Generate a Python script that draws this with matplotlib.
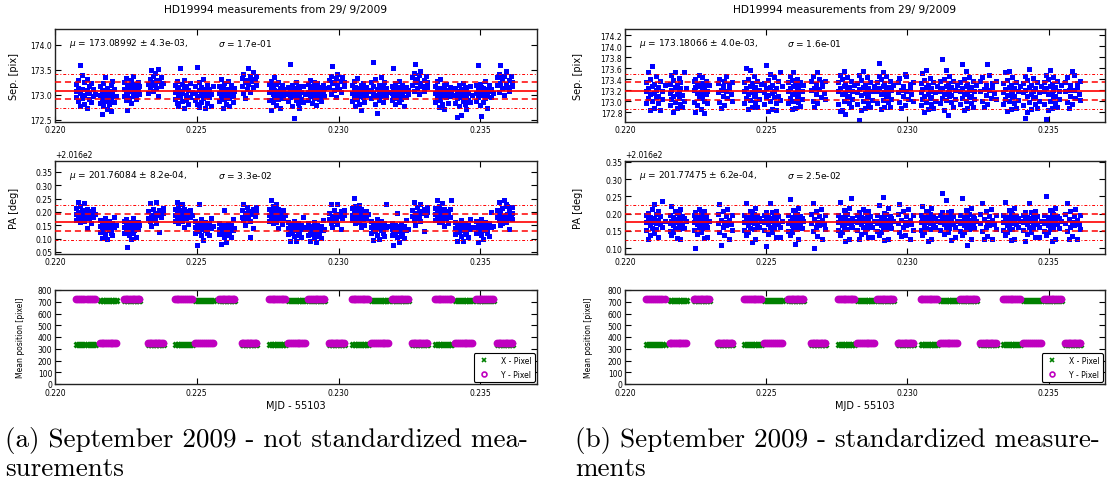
import matplotlib
matplotlib.use('Agg')
import matplotlib.pyplot as plt
import numpy as np
from matplotlib.ticker import MultipleLocator, FormatStrFormatter, ScalarFormatter

# observing blocks of the night, MJD - 55103 (first frame, last frame)
blocks = [
    (0.22075, 0.22140), (0.22158, 0.22215), (0.22243, 0.22298), (0.22328, 0.22380),
    (0.22422, 0.22482), (0.22494, 0.22556), (0.22579, 0.22632), (0.22659, 0.22710),
    (0.22755, 0.22812), (0.22822, 0.22882), (0.22894, 0.22950), (0.22966, 0.23020),
    (0.23047, 0.23104), (0.23116, 0.23175), (0.23187, 0.23244), (0.23259, 0.23313),
    (0.23340, 0.23398), (0.23410, 0.23472), (0.23484, 0.23544), (0.23559, 0.23613),
]

# mean detector position of the two stars in each block [pixel]
xpix_mean = [338, 712, 712, 338] * 5
ypix_mean = [721, 346, 721, 346] * 5

# per-frame measurements, one string per block.
# token = frame column (0-9 inside the block) + value code
# separation: code in 0.01 pix above 172.0, PA: code in 0.001 deg above 201.6
sep_raw = [
    "0108 0122 0097 1115 1089 1131 2104 2078 2160 3112 3095 3141 4101 4126 4083 5110 5074 5133 6118 6092 6104 7087 7125 8099 8113 9102",
    "0101 0085 0118 1093 1063 1110 2097 2124 2079 3105 3088 3136 4099 4072 4114 5091 5108 5083 6120 6095 6069 7103 7128 8087 8112 9098",
    "0112 0126 0098 1107 1135 1090 2118 2102 2070 3121 3109 3094 4130 4113 4085 5104 5139 6116 6099 6123 7108 7092 8127 8111 9103 9119",
    "0122 0104 1133 1117 2150 2126 3109 3138 4121 4145 5114 5131 6152 6099 7128 8136 8118 9124",
    "0107 0121 0093 1112 1085 1128 2102 2117 2079 3109 3096 3154 4104 4123 4088 5115 5074 5131 6100 6119 6091 7110 7082 8125 8097 9106",
    "0104 0090 0119 1098 1157 1082 2110 2126 2077 3101 3116 3087 4108 4094 4133 5099 5075 5112 6106 6121 6085 7097 7113 8102 8079 9118",
    "0104 0119 0088 1110 1097 1132 2101 2075 2116 3107 3092 3124 4098 4113 4083 5105 5129 6094 6111 6078 7102 7120 8099 8086 9109 9115",
    "0118 0135 1104 1142 2127 2094 3131 3113 4155 4122 5139 5107 6128 7146 7116 8133 9121 9139",
    "0107 0123 0091 1114 1070 1129 2103 2118 2086 3111 3097 3136 4100 4122 4080 5109 5093 5127 6115 6101 6074 7106 7120 8095 8113 9104",
    "0102 0117 0088 1096 1163 1110 2105 2079 2121 3099 3054 3114 4108 4091 4126 5101 5084 5119 6097 6112 6075 7106 7093 8118 8087 9103",
    "0107 0122 0090 1113 1098 1131 2104 2084 2119 3110 3095 3127 4101 4116 4081 5108 5124 6093 6112 6103 7117 7088 8106 8121 9099 9114",
    "0116 0131 1102 1139 2124 2158 3110 3127 4135 4097 5120 5143 6113 7129 7106 8137 9118 9126",
    "0105 0120 0088 1111 1096 1129 2101 2079 2116 3108 3093 3134 4099 4114 4083 5106 5121 5070 6112 6097 6124 7103 7086 8117 8100 9109",
    "0110 0126 0094 1105 1166 1118 2099 2132 2083 3113 3101 3065 4121 4108 4090 5115 5098 5137 6104 6119 6086 7111 7127 8096 8114 9106",
    "0105 0119 0090 1112 1097 1155 2101 2124 2082 3109 3094 3116 4103 4128 4087 5106 5093 6114 6100 6121 7079 7108 8117 8096 9110 9102",
    "0121 0137 1108 1144 2126 2163 3115 3133 4140 4102 5124 5149 6118 7131 7109 8139 9126 9117",
    "0104 0119 0087 1110 1094 1128 2100 2077 2115 3107 3091 3133 4098 4113 4082 5105 5120 5072 6111 6096 6123 7102 7085 8116 8099 9108",
    "0100 0115 0085 1094 1056 1108 2103 2078 2120 3097 3112 3060 4106 4089 4125 5099 5083 5116 6095 6110 6073 7104 7091 8118 8086 9101",
    "0105 0120 0089 1111 1096 1160 2101 2123 2080 3108 3058 3117 4102 4114 4086 5106 5094 5128 6112 6099 6075 7109 7121 8097 8113 9104",
    "0121 0136 1107 1143 2125 2160 3114 3132 4139 4101 5123 5148 6117 7130 7108 8138 9127 9119",
]
pa_raw = [
    "0193 0215 0171 1201 1238 1182 2188 2224 2163 3197 3176 3209 4185 4232 4168 5194 5213 5140 6179 6205 6187 7199 7158 8210 8183 9192",
    "0148 0170 0125 1155 1103 1139 2162 2131 2145 3152 3118 3176 4141 4159 4097 5134 5166 5148 6123 6153 6137 7160 7115 8144 8182 9150",
    "0145 0166 0123 1151 1134 1172 2140 2157 2068 3129 3148 3112 4163 4137 4098 5152 5121 5176 6143 6159 6131 7146 7108 8138 8164 9150",
    "0178 0203 1165 1234 2190 2148 3212 3183 4172 4198 5236 5160 6189 7207 7124 8181 9195 9214",
    "0190 0212 0168 1197 1236 1178 2185 2220 2160 3194 3173 3206 4182 4229 4165 5191 5210 5145 6176 6202 6184 7196 7155 8207 8180 9189",
    "0145 0167 0122 1152 1078 1136 2159 2128 2230 3149 3115 3173 4138 4156 4096 5131 5163 5145 6120 6150 6134 7157 7112 8141 8179 9147",
    "0138 0160 0116 1144 1080 1129 2152 2121 2135 3142 3108 3206 4131 4149 4088 5124 5156 5138 6113 6143 6127 7150 7105 8134 8172 9140",
    "0183 0208 1170 1230 2195 2153 3217 3188 4177 4203 5105 5165 6194 7212 7140 8186 9200 9219",
    "0190 0213 0167 1198 1245 1179 2186 2221 2158 3195 3172 3207 4181 4230 4164 5192 5211 5140 6177 6203 6185 7197 7154 8208 8179 9188",
    "0140 0162 0118 1146 1092 1131 2154 2123 2137 3144 3110 3168 4133 4151 4090 5126 5158 5140 6115 6145 6129 7152 7106 8136 8180 9142",
    "0135 0157 0113 1141 1093 1126 2149 2118 2132 3139 3105 3163 4128 4146 4088 5121 5153 5135 6110 6140 6124 7147 7101 8131 8169 9137",
    "0173 0198 1160 1231 2185 2143 3207 3178 4167 4193 5228 5155 6184 7202 7138 8176 9190 9209",
    "0188 0214 0170 1195 1252 1176 2183 2222 2158 3192 3171 3208 4180 4227 4163 5193 5212 5143 6174 6200 6186 7198 7153 8205 8178 9191",
    "0145 0168 0121 1153 1095 1137 2160 2129 2142 3150 3114 3175 4139 4157 4099 5132 5165 5146 6122 6151 6135 7158 7110 8142 8230 9148",
    "0136 0158 0114 1142 1078 1127 2150 2119 2133 3140 3106 3198 4129 4147 4087 5122 5154 5136 6111 6141 6125 7148 7102 8132 8170 9138",
    "0184 0209 1171 1238 2196 2152 3218 3189 4178 4204 5230 5166 6195 7213 7130 8187 9201 9220",
    "0193 0216 0170 1200 1246 1181 2188 2223 2162 3197 3175 3209 4184 4232 4167 5194 5213 5146 6179 6205 6187 7199 7157 8210 8182 9246",
    "0140 0163 0117 1147 1092 1132 2155 2124 2138 3145 3109 3169 4134 4152 4093 5127 5159 5141 6116 6146 6130 7153 7107 8137 8175 9143",
    "0145 0168 0122 1152 1088 1137 2159 2128 2141 3149 3113 3172 4138 4156 4097 5131 5163 5146 6121 6151 6134 7158 7110 8143 8200 9147",
    "0182 0207 1169 1236 2193 2151 3215 3186 4175 4244 5228 5163 6192 7210 7135 8184 9198 9217 1201 3160 5190 7178 9174 6222 2199 4181",
]
sep_std = [
    "0118 0134 0097 1123 1153 1105 2112 2140 2084 3127 3101 3164 4115 4131 4088 5120 5108 5145 6097 6125 6110 7083 7136 8119 8103 9129",
    "0115 0131 0092 1121 1104 1147 2109 2138 2080 3126 3098 3152 4113 4129 4087 5118 5106 5142 6095 6123 6134 7089 7111 8153 8101 9124",
    "0120 0136 0099 1126 1080 1140 2114 2131 2093 3128 3105 3148 4117 4133 4085 5121 5109 5144 6100 6127 6078 7112 7137 8119 8097 9130",
    "0116 0133 1098 1141 2121 2087 3128 3109 4137 4093 5119 5146 6105 7124 7131 8112 9134 9101",
    "0119 0135 0096 1124 1160 1106 2113 2141 2085 3128 3102 3156 4116 4132 4089 5121 5109 5145 6098 6126 6111 7090 7137 8120 8104 9131",
    "0117 0133 0094 1123 1165 1107 2111 2139 2082 3126 3100 3150 4114 4130 4086 5119 5107 5143 6096 6124 6084 7109 7136 8152 8102 9128",
    "0118 0134 0097 1124 1106 1145 2112 2138 2086 3127 3101 3153 4115 4131 4088 5120 5108 5141 6098 6125 6111 7091 7135 8119 8103 9129",
    "0120 0137 1101 1145 2123 2090 3131 3112 4153 4096 5122 5140 6107 7127 7134 8115 9136 9104",
    "0118 0135 0095 1123 1082 1147 2112 2140 2084 3127 3101 3154 4115 4131 4077 5120 5108 5144 6097 6125 6110 7090 7136 8119 8103 9129",
    "0117 0133 0094 1122 1066 1147 2111 2139 2083 3126 3100 3155 4114 4130 4087 5119 5107 5143 6096 6124 6109 7089 7135 8118 8102 9128",
    "0119 0135 0096 1124 1170 1146 2113 2141 2085 3128 3102 3152 4116 4132 4089 5121 5109 5145 6098 6126 6111 7090 7137 8120 8104 9130",
    "0117 0134 1098 1142 2120 2087 3128 3109 4150 4093 5119 5146 6104 7124 7131 8112 9135 9101",
    "0116 0133 0093 1122 1151 1104 2110 2139 2081 3125 3099 3156 4113 4129 4086 5118 5106 5142 6095 6123 6108 7088 7134 8117 8101 9127",
    "0119 0136 0096 1124 1176 1105 2113 2141 2084 3128 3102 3157 4116 4132 4074 5121 5109 5145 6098 6126 6111 7090 7137 8120 8104 9130",
    "0118 0134 0095 1123 1168 1105 2112 2140 2083 3127 3101 3154 4115 4131 4087 5120 5108 5144 6097 6125 6110 7089 7136 8119 8103 9129",
    "0119 0136 1100 1144 2122 2089 3130 3111 4168 4095 5121 5148 6106 7126 7133 8114 9137 9103",
    "0117 0133 0094 1122 1153 1103 2111 2139 2082 3126 3100 3155 4114 4130 4086 5119 5107 5143 6096 6124 6109 7088 7135 8118 8102 9128",
    "0116 0132 0093 1121 1070 1146 2110 2138 2081 3125 3099 3159 4113 4129 4085 5118 5106 5142 6095 6123 6108 7087 7134 8117 8101 9127",
    "0118 0135 0095 1123 1067 1148 2112 2140 2084 3127 3101 3156 4115 4131 4087 5120 5108 5144 6097 6125 6110 7089 7136 8119 8103 9129",
    "0118 0135 1099 1143 2121 2088 3129 3110 4155 4094 5120 5147 6105 7125 7132 8113 9136 9102",
]
pa_std = [
    "0175 0196 0152 1181 1128 1203 2168 2190 2139 3177 3213 3160 4186 4145 4229 5172 5199 5157 6183 6132 6207 7170 7193 8161 8236 9179",
    "0174 0195 0151 1180 1222 1138 2167 2189 2146 3176 3208 3159 4185 4131 4201 5171 5198 5156 6182 6127 6214 7169 7192 8160 8186 9178",
    "0176 0197 0153 1182 1102 1204 2169 2191 2140 3178 3214 3161 4187 4146 4203 5173 5200 5158 6184 6131 6208 7171 7194 8162 8133 9180",
    "0172 0199 1148 1229 2183 2110 3161 3207 4176 4138 5193 5166 6212 7181 7127 8169 9195 9154",
    "0175 0196 0152 1181 1232 1139 2168 2190 2147 3177 3209 3160 4186 4118 4202 5172 5199 5157 6183 6128 6215 7170 7193 8161 8187 9179",
    "0176 0197 0153 1182 1108 1205 2169 2191 2141 3178 3230 3161 4187 4147 4204 5173 5200 5158 6184 6132 6209 7171 7194 8162 8134 9180",
    "0174 0195 0151 1180 1243 1137 2167 2189 2146 3176 3210 3159 4185 4113 4201 5171 5198 5156 6182 6127 6216 7169 7192 8160 8186 9178",
    "0173 0200 1149 1230 2184 2100 3162 3208 4177 4136 5194 5167 6213 7182 7126 8170 9196 9155",
    "0175 0196 0152 1181 1235 1139 2168 2190 2147 3177 3211 3160 4186 4121 4202 5172 5199 5157 6183 6128 6215 7170 7244 8161 8187 9179",
    "0176 0197 0153 1182 1128 1205 2169 2191 2141 3178 3212 3161 4187 4147 4204 5173 5200 5158 6184 6132 6209 7171 7194 8162 8134 9180",
    "0174 0195 0151 1180 1226 1137 2167 2189 2146 3176 3247 3159 4185 4124 4201 5171 5198 5156 6182 6127 6216 7169 7192 8160 8186 9178",
    "0172 0199 1148 1229 2183 2135 3161 3207 4176 4138 5193 5166 6212 7181 7127 8169 9195 9154",
    "0175 0196 0152 1181 1223 1139 2168 2190 2147 3177 3209 3160 4186 4121 4202 5172 5199 5157 6183 6128 6215 7170 7193 8161 8187 9179",
    "0176 0197 0153 1182 1260 1205 2169 2191 2141 3178 3238 3161 4187 4147 4204 5173 5200 5158 6184 6124 6209 7171 7194 8162 8134 9180",
    "0174 0195 0151 1180 1246 1137 2167 2189 2146 3176 3210 3159 4185 4110 4201 5171 5198 5156 6182 6127 6216 7169 7192 8160 8186 9178",
    "0173 0200 1149 1230 2184 2128 3162 3208 4177 4136 5194 5167 6213 7182 7126 8170 9196 9155",
    "0175 0196 0152 1181 1233 1139 2168 2190 2147 3177 3211 3160 4186 4124 4202 5172 5199 5157 6183 6128 6215 7170 7193 8161 8187 9179",
    "0176 0197 0153 1182 1120 1205 2169 2191 2141 3178 3231 3161 4187 4147 4204 5173 5200 5158 6184 6132 6209 7171 7194 8162 8134 9180",
    "0174 0195 0151 1180 1252 1137 2167 2189 2146 3176 3210 3159 4185 4120 4201 5171 5198 5156 6182 6127 6216 7169 7192 8160 8186 9178",
    "0173 0200 1149 1230 2184 2128 3162 3208 4177 4136 5194 5167 6213 7182 7126 8170 9196 9155",
]

# mean, error of the mean, scatter
stats_raw = {'sep': (173.08992, 4.3e-03, 1.7e-01), 'pa': (201.76084, 8.2e-04, 3.3e-02)}
stats_std = {'sep': (173.18066, 4.0e-03, 1.6e-01), 'pa': (201.77475, 6.2e-04, 2.5e-02)}

title = 'HD19994 measurements from 29/ 9/2009'
captions = [('(a) September 2009 - not standardized mea-', 'surements'),
            ('(b) September 2009 - standardized measure-', 'ments')]

W, H = 1108, 489


def decode(strings, base, unit):
    xs, ys = [], []
    for (t0, t1), s in zip(blocks, strings):
        for tok in s.split():
            col = int(tok[0])
            xs.append(t0 + col * (t1 - t0) / 9.0)
            ys.append(base + int(tok[1:]) * unit)
    return np.array(xs), np.array(ys)


def px_axes(fig, x0, x1, top, bottom):
    return fig.add_axes([x0 / W, 1 - bottom / H, (x1 - x0) / W, (bottom - top) / H])


def style(ax):
    ax.tick_params(direction='in', top=True, right=True, length=4, width=0.8,
                   labelsize=5.5, pad=2)
    for sp in ax.spines.values():
        sp.set_linewidth(1.0)
        sp.set_color('#222222')
    ax.set_xlim(0.220, 0.237)
    ax.xaxis.set_major_locator(MultipleLocator(0.005))
    ax.xaxis.set_major_formatter(FormatStrFormatter('%.3f'))


def stat_panel(ax, x, y, st):
    mu, err, sig = st
    ax.plot(x, y, 's', color='blue', ms=3.6, mew=0, zorder=2)
    ax.axhline(mu, color='red', lw=1.2, zorder=3)
    for k in (-1, 1):
        ax.axhline(mu + k * sig, color='red', lw=1.1, ls=(0, (4, 2.5)), zorder=3)
        ax.axhline(mu + 2 * k * sig, color='red', lw=0.7, ls=(0, (3, 2, 1, 2)), zorder=3)
    ax.text(0.03, 0.86, r'$\mu$ = %.5f $\pm$ %.1e,' % (mu, err), transform=ax.transAxes,
            fontsize=6.5, va='center')
    ax.text(0.338, 0.86, r'$\sigma$ = %.1e' % sig, transform=ax.transAxes,
            fontsize=6.5, va='center')


def draw_column(fig, x0, x1, sep_s, pa_s, st, sep_lim, sep_step, pa_lim, lab_x, mean_lab_x, cap):
    ax1 = px_axes(fig, x0, x1, 30, 123)
    ax2 = px_axes(fig, x0, x1, 162, 255)
    ax3 = px_axes(fig, x0, x1, 291, 385)
    for ax in (ax1, ax2, ax3):
        style(ax)

    sx, sy = decode(sep_s, 172.0, 0.01)
    px, py = decode(pa_s, 201.6, 0.001)

    stat_panel(ax1, sx, sy, st['sep'])
    ax1.set_ylim(*sep_lim)
    ax1.yaxis.set_major_locator(MultipleLocator(sep_step))
    ax1.yaxis.set_major_formatter(FormatStrFormatter('%.1f'))
    ax1.set_ylabel('Sep. [pix]', fontsize=7)
    ax1.yaxis.set_label_coords(lab_x, 0.5)

    stat_panel(ax2, px, py, st['pa'])
    ax2.set_ylim(*pa_lim)
    ax2.yaxis.set_major_locator(MultipleLocator(0.05))
    ax2.yaxis.set_major_formatter(ScalarFormatter(useOffset=201.6))
    ax2.yaxis.get_offset_text().set_fontsize(5.5)
    ax2.set_ylabel('PA [deg]', fontsize=7)
    ax2.yaxis.set_label_coords(lab_x, 0.5)

    # frame times of each block from the separation series
    for (t0, t1), xm, ym, s in zip(blocks, xpix_mean, ypix_mean, sep_s):
        cols = sorted({int(tok[0]) for tok in s.split()})
        t = np.array([t0 + c * (t1 - t0) / 9.0 for c in cols])
        ax3.plot(t, np.full(len(t), xm), 'x', color='green', ms=3.6, mew=2, zorder=2)
        ax3.plot(t, np.full(len(t), ym), 'o', color='m', mec='m', ms=4.6, zorder=3)
    h1, = ax3.plot([], [], 'x', color='green', ms=3, mew=1.2, label='X - Pixel')
    h2, = ax3.plot([], [], 'o', color='m', mfc='none', mec='m', ms=3.5, mew=1.2, label='Y - Pixel')
    ax3.set_ylim(0, 800)
    ax3.yaxis.set_major_locator(MultipleLocator(100))
    ax3.tick_params(axis='x', pad=3)
    ax3.set_ylabel('Mean position [pixel]', fontsize=5.5)
    ax3.yaxis.set_label_coords(mean_lab_x, 0.5)
    ax3.set_xlabel('MJD - 55103', fontsize=7)
    ax3.xaxis.set_label_coords(0.5, -0.17)
    leg = ax3.legend(handles=[h1, h2], loc='lower right', fontsize=5.5, numpoints=1,
                     fancybox=True, framealpha=1, borderaxespad=0.3, handletextpad=1.2,
                     labelspacing=0.6)
    leg.get_frame().set_edgecolor('black')
    leg.get_frame().set_linewidth(0.8)

    fig.text(((x0 + x1) / 2 - 20) / W, 1 - 10 / H, title, ha='center', va='center',
             fontsize=7.7)
    cx = (x0 - 50) / W
    fig.text(cx, 1 - 441 / H, cap[0], fontsize=19.5, family='cmr10', va='center')
    fig.text(cx, 1 - 469 / H, cap[1], fontsize=19.5, family='cmr10', va='center')


def main():
    fig = plt.figure(figsize=(W / 100, H / 100), dpi=100)
    draw_column(fig, 55, 537, sep_raw, pa_raw, stats_raw, (172.46, 174.32), 0.5,
                (201.6425, 201.991), -0.074, -0.062, captions[0])
    draw_column(fig, 625, 1105, sep_std, pa_std, stats_std, (172.62, 174.31), 0.2,
                (201.6835, 201.952), -0.0875, -0.067, captions[1])
    fig.savefig('out.png', dpi=100)


if __name__ == '__main__':
    main()
